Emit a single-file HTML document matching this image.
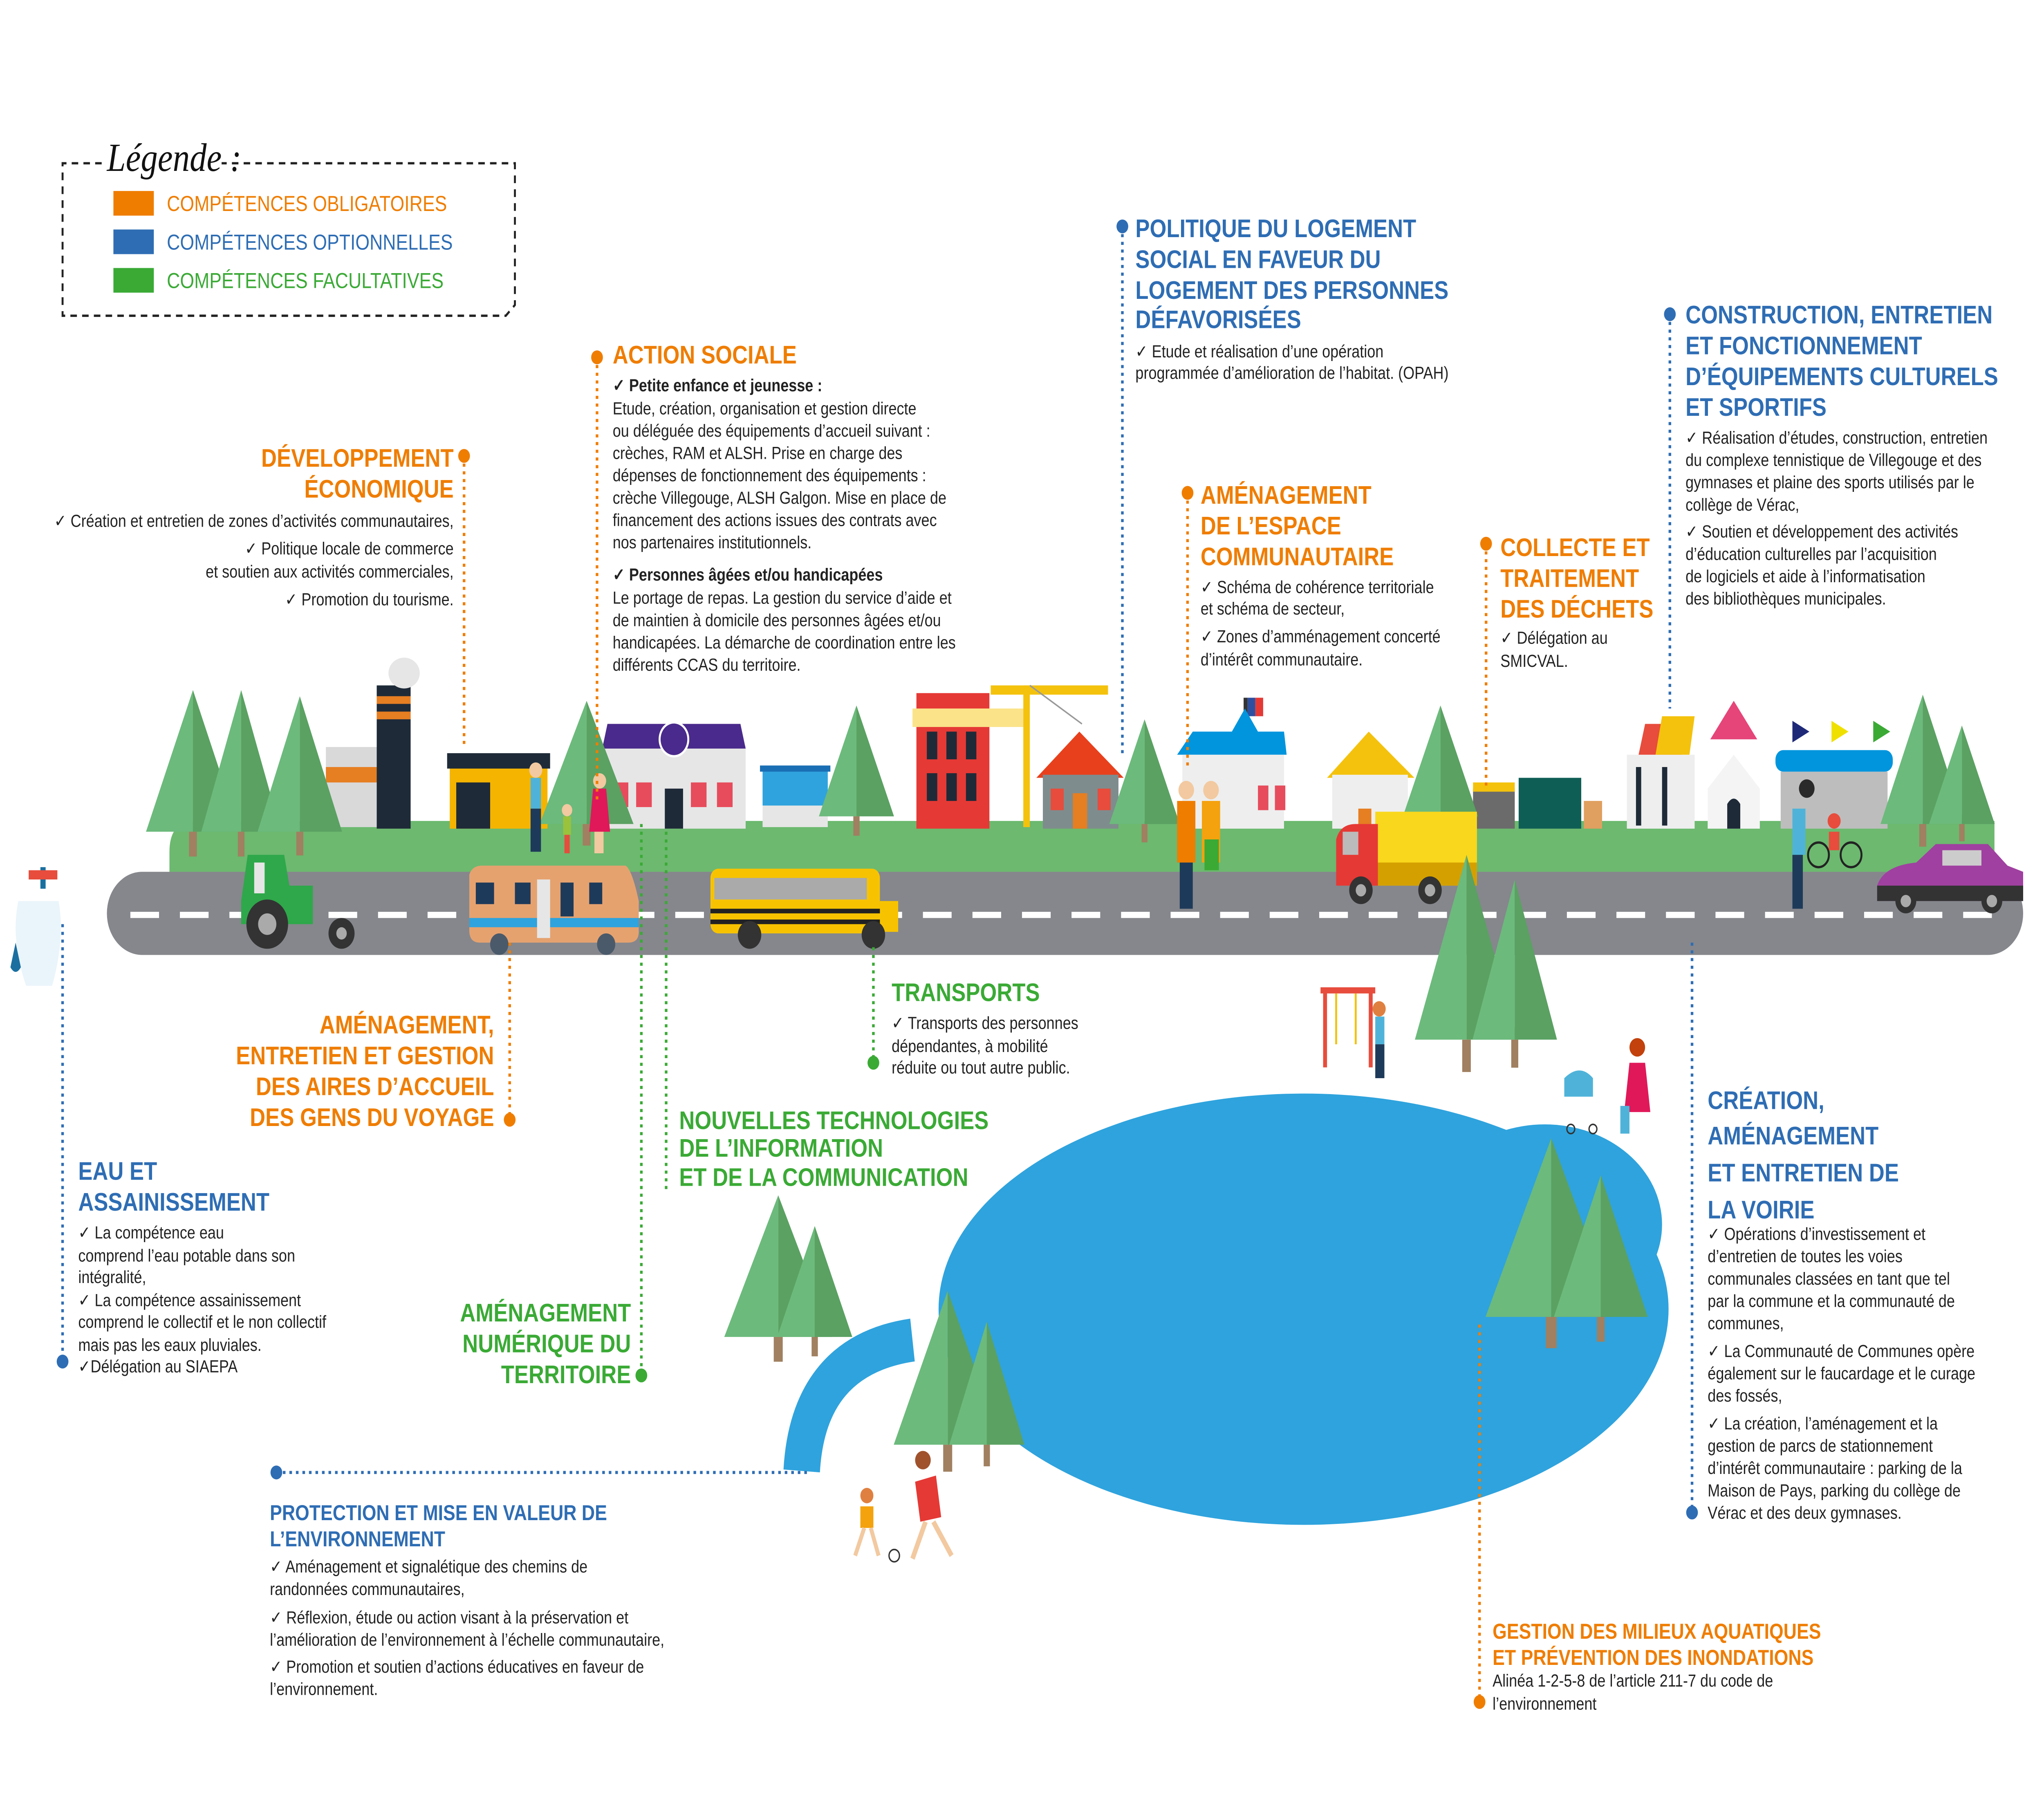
<!DOCTYPE html>
<html><head><meta charset="utf-8"><style>
html,body{margin:0;padding:0;background:#fff;width:100%;height:100%;overflow:hidden}
svg{display:block;position:absolute;left:0;top:0;width:100vw;height:100vh}
text{font-family:"Liberation Sans",sans-serif}
.t{font-weight:bold;font-size:16.5px}
.o{fill:#ef7d00}.b{fill:#2e6db4}.g{fill:#3aaa35}
.s{font-size:11.3px;fill:#222}
.lo{stroke:#ef7d00;stroke-width:2;stroke-dasharray:2 3;fill:none}
.lb{stroke:#2e6db4;stroke-width:2;stroke-dasharray:2 3;fill:none}
.lg{stroke:#3aaa35;stroke-width:2;stroke-dasharray:2 3;fill:none}
.tr{fill:#6cba7c}.td{fill:#5aa162}
</style></head><body>
<svg viewBox="0 0 1568 1168" preserveAspectRatio="none" xmlns="http://www.w3.org/2000/svg">
<defs>
<g id="tree"><polygon points="0,-80 -36,0 0,0" fill="#6cba7c"/><polygon points="0,-80 36,0 0,0" fill="#5aa162"/><rect x="-3" y="0" width="6" height="14" fill="#a08060"/></g>
</defs>
<rect width="1568" height="1168" fill="#fff"/>
<!-- legend -->
<path d="M78 106 H48 V205 H388 L395 198 V106 H170" stroke="#222" stroke-width="1.5" stroke-dasharray="5 4" fill="none"/>
<text x="82" y="111" style="font-family:'Liberation Serif',serif;font-style:italic" font-size="26" fill="#111">Légende :</text>
<rect x="87" y="124" width="31" height="16" fill="#ef7d00"/>
<rect x="87" y="149" width="31" height="16" fill="#2e6db4"/>
<rect x="87" y="174" width="31" height="16" fill="#3aaa35"/>
<text x="128" y="137" font-size="14" class="o">COMPÉTENCES OBLIGATOIRES</text>
<text x="128" y="162" font-size="14" class="b">COMPÉTENCES OPTIONNELLES</text>
<text x="128" y="187" font-size="14" class="g">COMPÉTENCES FACULTATIVES</text>

<!-- lake -->
<path d="M615 955 Q620 880 700 870" stroke="#2fa3dd" stroke-width="28" fill="none"/>
<ellipse cx="1000" cy="850" rx="280" ry="140" fill="#2fa3dd"/>
<ellipse cx="1185" cy="795" rx="90" ry="65" fill="#2fa3dd"/>

<!-- grass and road -->
<path d="M150 533 H1530 V573 H130 V553 Q130 533 150 533Z" fill="#6cb96f"/>
<rect x="82" y="566" width="1470" height="54" rx="27" fill="#85878c"/>
<line x1="100" y1="594" x2="1540" y2="594" stroke="#fff" stroke-width="4" stroke-dasharray="22 16"/>
<!-- tap -->
<rect x="31" y="563" width="4" height="14" fill="#1a6fa0"/><rect x="22" y="565" width="22" height="6" fill="#e74c3c"/>
<path d="M14 585 Q8 610 20 640 H40 Q50 610 45 585Z" fill="#eaf5fb"/>
<path d="M12 612 L8 628 Q12 634 16 628Z" fill="#1a6fa0"/>

<!-- buildings -->
<rect x="250" y="485" width="60" height="52" fill="#d9d9d9"/><rect x="250" y="498" width="55" height="10" fill="#e67e22"/>
<rect x="289" y="445" width="26" height="93" fill="#1e2a38"/><rect x="289" y="452" width="26" height="5" fill="#e67e22"/><rect x="289" y="462" width="26" height="5" fill="#e67e22"/>
<ellipse cx="310" cy="437" rx="12" ry="10" fill="#e6e6e6"/>
<rect x="345" y="495" width="75" height="43" fill="#f4b400"/><rect x="343" y="489" width="79" height="10" fill="#1e2a38"/><rect x="350" y="508" width="26" height="30" fill="#1e2a38"/>
<rect x="462" y="484" width="110" height="54" fill="#e6e6e6"/><polygon points="462,486 466,470 568,470 572,486" fill="#4a2a8c"/><circle cx="517" cy="480" r="11" fill="#4a2a8c" stroke="#fff" stroke-width="1.5"/>
<g fill="#e74c5c"><rect x="470" y="508" width="12" height="16"/><rect x="488" y="508" width="12" height="16"/><rect x="530" y="508" width="12" height="16"/><rect x="550" y="508" width="12" height="16"/></g><rect x="510" y="512" width="14" height="26" fill="#1e2a38"/>
<rect x="585" y="505" width="50" height="32" fill="#e6e6e6"/><rect x="585" y="498" width="50" height="25" fill="#2fa3dd"/><rect x="583" y="497" width="54" height="4" fill="#1a6fb4"/>
<rect x="703" y="450" width="56" height="88" fill="#e53935"/><rect x="700" y="460" width="85" height="12" fill="#fbe38a"/>
<g fill="#1e2a38"><rect x="711" y="475" width="8" height="18"/><rect x="726" y="475" width="8" height="18"/><rect x="741" y="475" width="8" height="18"/><rect x="711" y="502" width="8" height="18"/><rect x="726" y="502" width="8" height="18"/><rect x="741" y="502" width="8" height="18"/></g>
<rect x="785" y="445" width="5" height="92" fill="#f4c20d"/><rect x="760" y="445" width="90" height="6" fill="#f4c20d"/><line x1="790" y1="445" x2="830" y2="470" stroke="#999" stroke-width="1"/>
<polygon points="795,505 828,475 862,505" fill="#e8401c"/><rect x="800" y="503" width="58" height="35" fill="#7f8c8d"/><g fill="#e74c3c"><rect x="806" y="512" width="10" height="14"/><rect x="842" y="512" width="10" height="14"/></g><rect x="823" y="515" width="11" height="23" fill="#e67e22"/>
<rect x="954" y="453" width="3" height="32" fill="#333"/><rect x="957" y="453" width="6" height="12" fill="#2e4fa0"/><rect x="963" y="453" width="6" height="12" fill="#e53935"/>
<polygon points="903,490 915,475 945,475 955,460 965,475 985,475 987,490" fill="#0095dd"/><rect x="907" y="490" width="78" height="48" fill="#eeeeee"/><g fill="#e74c5c"><rect x="965" y="510" width="8" height="16"/><rect x="978" y="510" width="8" height="16"/></g>
<polygon points="1018,505 1050,475 1085,505" fill="#f4c20d"/><rect x="1022" y="503" width="58" height="35" fill="#eeeeee"/><rect x="1042" y="525" width="10" height="13" fill="#e67e22"/>
<rect x="1130" y="512" width="32" height="26" fill="#6b6b6b"/><rect x="1130" y="508" width="32" height="6" fill="#f4c20d"/><rect x="1165" y="505" width="48" height="33" fill="#0f5e56"/>
<rect x="1215" y="520" width="14" height="18" fill="#e0a060"/>
<rect x="1248" y="490" width="52" height="48" fill="#eeeeee"/><polygon points="1262,470 1285,470 1290,490 1257,490" fill="#e74c3c"/><polygon points="1275,465 1300,465 1296,490 1270,490" fill="#f4c20d"/>
<rect x="1255" y="498" width="4" height="38" fill="#1e2a38"/><rect x="1275" y="498" width="4" height="38" fill="#1e2a38"/>
<polygon points="1312,480 1330,455 1348,480" fill="#e6457a"/><polygon points="1310,512 1330,490 1350,512 1350,538 1310,538" fill="#f4f4f4"/><path d="M1325 538 V522 Q1330 515 1335 522 V538Z" fill="#1e2a38"/>
<rect x="1362" y="487" width="90" height="14" rx="6" fill="#0095dd"/><rect x="1366" y="501" width="82" height="37" fill="#bdbdbd"/>
<polygon points="1375,468 1388,475 1375,482" fill="#1e2a78"/><polygon points="1405,468 1418,475 1405,482" fill="#f0e000"/><polygon points="1437,468 1450,475 1437,482" fill="#3aaa35"/>
<!-- trees on top -->
<use href="#tree" transform="translate(148,540) scale(1,1.15)"/><use href="#tree" transform="translate(185,540) scale(0.85,1.15)"/><use href="#tree" transform="translate(230,540) scale(0.9,1.1)"/>
<use href="#tree" transform="translate(450,535)"/><use href="#tree" transform="translate(657,530) scale(0.8,0.9)"/>
<use href="#tree" transform="translate(878,535) scale(0.75,0.85)"/><use href="#tree" transform="translate(1105,530) scale(0.8,0.9)"/>
<use href="#tree" transform="translate(1475,535) scale(0.9,1.05)"/><use href="#tree" transform="translate(1505,535) scale(0.7,0.8)"/>
<!-- people -->
<g><rect x="407" y="505" width="8" height="20" fill="#4fb3d9"/><rect x="407" y="525" width="8" height="28" fill="#1e3a5a"/><circle cx="411" cy="500" r="5" fill="#f2c9a0"/>
<rect x="432" y="530" width="6" height="12" fill="#9ac23c"/><rect x="433" y="542" width="4" height="12" fill="#e74c3c"/><circle cx="435" cy="526" r="4" fill="#f2c9a0"/>
<polygon points="455,512 465,512 468,540 452,540" fill="#e0185a"/><rect x="456" y="540" width="7" height="14" fill="#f2c9a0"/><circle cx="460" cy="507" r="5" fill="#f2c9a0"/></g>
<g><rect x="903" y="520" width="14" height="40" fill="#ef7d00"/><rect x="905" y="560" width="10" height="30" fill="#1e3a5a"/><circle cx="910" cy="513" r="6" fill="#f2c9a0"/>
<rect x="922" y="520" width="14" height="40" fill="#f4a20d"/><rect x="924" y="545" width="11" height="20" fill="#3aaa35"/><circle cx="929" cy="513" r="6" fill="#f2c9a0"/></g>
<g><rect x="1375" y="525" width="10" height="30" fill="#4fb3d9"/><rect x="1375" y="555" width="8" height="35" fill="#1e3a5a"/><circle cx="1386" cy="512" r="6" fill="#2a2a2a"/>
<circle cx="1395" cy="555" r="8" fill="none" stroke="#222" stroke-width="1.5"/><circle cx="1420" cy="555" r="8" fill="none" stroke="#222" stroke-width="1.5"/><rect x="1403" y="540" width="8" height="12" fill="#e74c3c"/><circle cx="1407" cy="533" r="5" fill="#e74c3c"/></g>
<!-- vehicles -->
<path d="M185 585 L190 555 H218 L222 575 H240 V600 H185Z" fill="#2ea84a"/><rect x="195" y="560" width="8" height="20" fill="#e6e6e6"/><circle cx="205" cy="600" r="16" fill="#333"/><circle cx="205" cy="600" r="7" fill="#aaa"/><circle cx="262" cy="606" r="10" fill="#333"/><circle cx="262" cy="606" r="4" fill="#aaa"/>
<path d="M360 568 Q362 562 370 562 H480 Q485 565 490 585 V605 Q490 612 482 612 H368 Q360 612 360 604Z" fill="#e5a26f"/><rect x="360" y="596" width="130" height="6" fill="#2fa3dd"/>
<g fill="#1e3a5a"><rect x="365" y="573" width="14" height="14"/><rect x="395" y="573" width="12" height="14"/><rect x="430" y="573" width="10" height="22"/><rect x="452" y="573" width="10" height="14"/></g><rect x="412" y="571" width="10" height="38" fill="#e6e6e6"/>
<circle cx="383" cy="613" r="7" fill="#4a5a6a"/><circle cx="465" cy="613" r="7" fill="#4a5a6a"/>
<rect x="545" y="564" width="130" height="42" rx="6" fill="#f7c300"/><rect x="548" y="570" width="117" height="14" fill="#aaa"/><rect x="545" y="590" width="130" height="3" fill="#222"/><rect x="545" y="597" width="130" height="3" fill="#222"/><rect x="675" y="585" width="14" height="20" fill="#f7c300"/>
<circle cx="575" cy="607" r="9" fill="#333"/><circle cx="670" cy="607" r="9" fill="#333"/>
<rect x="1055" y="527" width="78" height="48" fill="#f9d71c"/><rect x="1055" y="560" width="78" height="15" fill="#d4a000"/><path d="M1025 575 V545 Q1028 535 1040 535 H1057 V575Z" fill="#e53935"/><rect x="1030" y="540" width="12" height="15" fill="#bbb"/>
<circle cx="1044" cy="578" r="9" fill="#333"/><circle cx="1044" cy="578" r="4" fill="#aaa"/><circle cx="1097" cy="578" r="9" fill="#333"/><circle cx="1097" cy="578" r="4" fill="#aaa"/>
<path d="M1440 575 Q1445 562 1470 560 L1485 548 L1525 548 L1540 562 L1552 566 L1552 585 L1440 585Z" fill="#a040a0"/><rect x="1440" y="575" width="112" height="10" fill="#333"/><rect x="1490" y="552" width="30" height="10" fill="#ccc"/><circle cx="1462" cy="585" r="8" fill="#333"/><circle cx="1462" cy="585" r="4" fill="#aaa"/><circle cx="1528" cy="585" r="8" fill="#333"/><circle cx="1528" cy="585" r="4" fill="#aaa"/>

<!-- lower trees -->
<use href="#tree" transform="translate(1125,675) scale(1.1,1.5)"/><use href="#tree" transform="translate(1162,675) scale(0.9,1.3)"/>
<use href="#tree" transform="translate(597,868) scale(1.15,1.15)"/><use href="#tree" transform="translate(625,868) scale(0.8,0.9)"/>
<use href="#tree" transform="translate(727,938) scale(1.15,1.25)"/><use href="#tree" transform="translate(757,938) scale(0.8,1)"/>
<use href="#tree" transform="translate(1190,855) scale(1.4,1.45)"/><use href="#tree" transform="translate(1228,855) scale(1.0,1.15)"/>
<!-- playground & people near lake -->
<rect x="1015" y="643" width="3" height="50" fill="#e74c3c"/><rect x="1050" y="643" width="3" height="50" fill="#e74c3c"/><rect x="1013" y="641" width="42" height="4" fill="#e74c3c"/><line x1="1025" y1="645" x2="1025" y2="678" stroke="#f4c20d" stroke-width="1.5"/><line x1="1040" y1="645" x2="1040" y2="678" stroke="#f4c20d" stroke-width="1.5"/>
<rect x="1055" y="660" width="7" height="18" fill="#4fb3d9"/><rect x="1055" y="678" width="7" height="22" fill="#1e3a5a"/><circle cx="1058" cy="655" r="5" fill="#e08040"/>
<path d="M1200 700 Q1212 690 1222 700 L1222 712 H1200Z" fill="#4fb3d9"/><circle cx="1205" cy="733" r="3" fill="none" stroke="#333"/><circle cx="1222" cy="733" r="3" fill="none" stroke="#333"/>
<polygon points="1250,690 1262,690 1266,722 1246,722" fill="#e0185a"/><circle cx="1256" cy="680" r="6" fill="#c2410c"/><rect x="1243" y="718" width="7" height="18" fill="#4fb3d9"/>
<rect x="660" y="978" width="10" height="14" fill="#f4a20d"/><circle cx="665" cy="971" r="5" fill="#e08040"/><line x1="663" y1="992" x2="656" y2="1010" stroke="#f2c9a0" stroke-width="3"/><line x1="668" y1="992" x2="674" y2="1010" stroke="#f2c9a0" stroke-width="3"/><circle cx="686" cy="1010" r="4" fill="#fff" stroke="#333"/>
<polygon points="702,962 718,958 722,985 706,988" fill="#e53935"/><circle cx="708" cy="948" r="6" fill="#a0522d"/><line x1="710" y1="988" x2="700" y2="1012" stroke="#f2c9a0" stroke-width="3.5"/><line x1="716" y1="988" x2="730" y2="1010" stroke="#f2c9a0" stroke-width="3.5"/>

<!-- connectors -->
<path class="lo" d="M356 296 V485"/><circle cx="356" cy="296" r="4.5" fill="#ef7d00"/>
<path class="lo" d="M458 232 V520"/><circle cx="458" cy="232" r="4.5" fill="#ef7d00"/>
<path class="lb" d="M861 147 V490"/><circle cx="861" cy="147" r="4.5" fill="#2e6db4"/>
<path class="lb" d="M1281 204 V460"/><circle cx="1281" cy="204" r="4.5" fill="#2e6db4"/>
<path class="lo" d="M911 320 V500"/><circle cx="911" cy="320" r="4.5" fill="#ef7d00"/>
<path class="lo" d="M1140 353 V510"/><circle cx="1140" cy="353" r="4.5" fill="#ef7d00"/>
<path class="lo" d="M391 612 V727"/><circle cx="391" cy="727" r="4.5" fill="#ef7d00"/>
<path class="lg" d="M670 615 V690"/><circle cx="670" cy="690" r="4.5" fill="#3aaa35"/>
<path class="lg" d="M511 540 V772"/>
<path class="lg" d="M492 535 V893"/><circle cx="492" cy="893" r="4.5" fill="#3aaa35"/>
<path class="lb" d="M48 600 V884"/><circle cx="48" cy="884" r="4.5" fill="#2e6db4"/>
<path class="lb" d="M212 956 H620"/><circle cx="212" cy="956" r="4.5" fill="#2e6db4"/>
<path class="lb" d="M1298 612 V982"/><circle cx="1298" cy="982" r="4.5" fill="#2e6db4"/>
<path class="lo" d="M1135 860 V1105"/><circle cx="1135" cy="1105" r="4.5" fill="#ef7d00"/>

<!-- texts -->
<g text-anchor="end">
<text x="348" y="303" class="t o">DÉVELOPPEMENT</text><text x="348" y="323" class="t o">ÉCONOMIQUE</text>
<text x="348" y="342" class="s">✓ Création et entretien de zones d’activités communautaires,</text>
<text x="348" y="360" class="s">✓ Politique locale de commerce</text>
<text x="348" y="375" class="s">et soutien aux activités commerciales,</text>
<text x="348" y="393" class="s">✓ Promotion du tourisme.</text>
<text x="379" y="671" class="t o">AMÉNAGEMENT,</text><text x="379" y="691" class="t o">ENTRETIEN ET GESTION</text><text x="379" y="711" class="t o">DES AIRES D’ACCUEIL</text><text x="379" y="731" class="t o">DES GENS DU VOYAGE</text>
<text x="484" y="858" class="t g">AMÉNAGEMENT</text><text x="484" y="878" class="t g">NUMÉRIQUE DU</text><text x="484" y="898" class="t g">TERRITOIRE</text>
</g>
<text x="470" y="236" class="t o">ACTION SOCIALE</text>
<text class="s" x="470"><tspan y="254" font-weight="bold">✓ Petite enfance et jeunesse :</tspan><tspan x="470" y="269">Etude, création, organisation et gestion directe</tspan><tspan x="470" y="283.5">ou déléguée des équipements d’accueil suivant :</tspan><tspan x="470" y="298">crèches, RAM et ALSH. Prise en charge des</tspan><tspan x="470" y="312.5">dépenses de fonctionnement des équipements  :</tspan><tspan x="470" y="327">crèche Villegouge, ALSH Galgon. Mise en place de</tspan><tspan x="470" y="341.5">financement des actions issues des contrats avec</tspan><tspan x="470" y="356">nos partenaires institutionnels.</tspan><tspan x="470" y="377" font-weight="bold">✓ Personnes âgées et/ou handicapées</tspan><tspan x="470" y="392">Le portage de repas. La gestion du service d’aide et</tspan><tspan x="470" y="406.5">de maintien à domicile des personnes âgées et/ou</tspan><tspan x="470" y="421">handicapées. La démarche de coordination entre les</tspan><tspan x="470" y="435.5">différents CCAS du territoire.</tspan></text>
<text x="871" y="154" class="t b">POLITIQUE DU LOGEMENT</text><text x="871" y="174" class="t b">SOCIAL EN FAVEUR DU</text><text x="871" y="194" class="t b">LOGEMENT DES PERSONNES</text><text x="871" y="213" class="t b">DÉFAVORISÉES</text>
<text x="871" y="232" class="s">✓ Etude et réalisation d’une opération</text><text x="871" y="246" class="s">programmée d’amélioration de l’habitat. (OPAH)</text>
<text x="1293" y="210" class="t b">CONSTRUCTION, ENTRETIEN</text><text x="1293" y="230" class="t b">ET FONCTIONNEMENT</text><text x="1293" y="250" class="t b">D’ÉQUIPEMENTS CULTURELS</text><text x="1293" y="270" class="t b">ET SPORTIFS</text>
<text class="s" x="1293"><tspan y="288">✓ Réalisation d’études, construction, entretien</tspan><tspan x="1293" y="302.5">du complexe tennistique de Villegouge et des</tspan><tspan x="1293" y="317">gymnases et plaine des sports utilisés par le</tspan><tspan x="1293" y="331.5">collège de Vérac,</tspan><tspan x="1293" y="349">✓ Soutien et développement des activités</tspan><tspan x="1293" y="363.5">d’éducation culturelles par l’acquisition</tspan><tspan x="1293" y="378">de logiciels et aide à l’informatisation</tspan><tspan x="1293" y="392.5">des bibliothèques municipales.</tspan></text>
<text x="921" y="327" class="t o">AMÉNAGEMENT</text><text x="921" y="347" class="t o">DE L’ESPACE</text><text x="921" y="367" class="t o">COMMUNAUTAIRE</text>
<text class="s" x="921"><tspan y="385">✓ Schéma de cohérence territoriale</tspan><tspan x="921" y="399">et schéma de secteur,</tspan><tspan x="921" y="417">✓ Zones d’amménagement concerté</tspan><tspan x="921" y="432">d’intérêt communautaire.</tspan></text>
<text x="1151" y="361" class="t o">COLLECTE ET</text><text x="1151" y="381" class="t o">TRAITEMENT</text><text x="1151" y="401" class="t o">DES DÉCHETS</text>
<text class="s" x="1151"><tspan y="418">✓ Délégation au</tspan><tspan x="1151" y="433">SMICVAL.</tspan></text>
<text x="684" y="650" class="t g">TRANSPORTS</text>
<text class="s" x="684"><tspan y="668">✓ Transports des personnes</tspan><tspan x="684" y="683">dépendantes, à mobilité</tspan><tspan x="684" y="697">réduite ou tout autre public.</tspan></text>
<text x="521" y="733" class="t g">NOUVELLES TECHNOLOGIES</text><text x="521" y="751" class="t g">DE L’INFORMATION</text><text x="521" y="770" class="t g">ET DE LA COMMUNICATION</text>
<text x="60" y="766" class="t b">EAU ET</text><text x="60" y="786" class="t b">ASSAINISSEMENT</text>
<text class="s" x="60"><tspan y="804">✓  La compétence eau</tspan><tspan x="60" y="819">comprend l’eau potable dans son</tspan><tspan x="60" y="833">intégralité,</tspan><tspan x="60" y="848">✓ La compétence assainissement</tspan><tspan x="60" y="862">comprend le collectif et le non collectif</tspan><tspan x="60" y="877">mais pas les eaux pluviales.</tspan><tspan x="60" y="891">✓Délégation au SIAEPA</tspan></text>
<text x="207" y="987" font-size="14" font-weight="bold" class="b">PROTECTION ET MISE EN VALEUR DE</text><text x="207" y="1004" font-size="14" font-weight="bold" class="b">L’ENVIRONNEMENT</text>
<text class="s" x="207"><tspan y="1021">✓ Aménagement et signalétique des chemins de</tspan><tspan x="207" y="1035.5">randonnées communautaires,</tspan><tspan x="207" y="1054">✓ Réflexion, étude ou action visant à la préservation et</tspan><tspan x="207" y="1068.5">l’amélioration de l’environnement à l’échelle communautaire,</tspan><tspan x="207" y="1086">✓ Promotion et soutien d’actions éducatives en faveur de</tspan><tspan x="207" y="1100.5">l’environnement.</tspan></text>
<text x="1310" y="720" class="t b">CRÉATION,</text><text x="1310" y="743" class="t b">AMÉNAGEMENT</text><text x="1310" y="767" class="t b">ET ENTRETIEN DE</text><text x="1310" y="791" class="t b">LA VOIRIE</text>
<text class="s" x="1310"><tspan y="805">✓ Opérations d’investissement et</tspan><tspan x="1310" y="819.5">d’entretien de toutes les voies</tspan><tspan x="1310" y="834">communales classées en tant que tel</tspan><tspan x="1310" y="848.5">par la commune et la communauté de</tspan><tspan x="1310" y="863">communes,</tspan><tspan x="1310" y="881">✓ La Communauté de Communes opère</tspan><tspan x="1310" y="895.5">également sur le faucardage et le curage</tspan><tspan x="1310" y="910">des fossés,</tspan><tspan x="1310" y="928">✓ La création, l’aménagement et la</tspan><tspan x="1310" y="942.5">gestion de parcs de stationnement</tspan><tspan x="1310" y="957">d’intérêt communautaire : parking de la</tspan><tspan x="1310" y="971.5">Maison de Pays, parking du collège de</tspan><tspan x="1310" y="986">Vérac et des deux gymnases.</tspan></text>
<text x="1145" y="1064" font-size="14" font-weight="bold" class="o">GESTION DES MILIEUX AQUATIQUES</text><text x="1145" y="1081" font-size="14" font-weight="bold" class="o">ET PRÉVENTION DES INONDATIONS</text>
<text class="s" x="1145"><tspan y="1095">Alinéa 1-2-5-8 de l’article 211-7 du code de</tspan><tspan x="1145" y="1110">l’environnement</tspan></text>
</svg>
</body></html>
